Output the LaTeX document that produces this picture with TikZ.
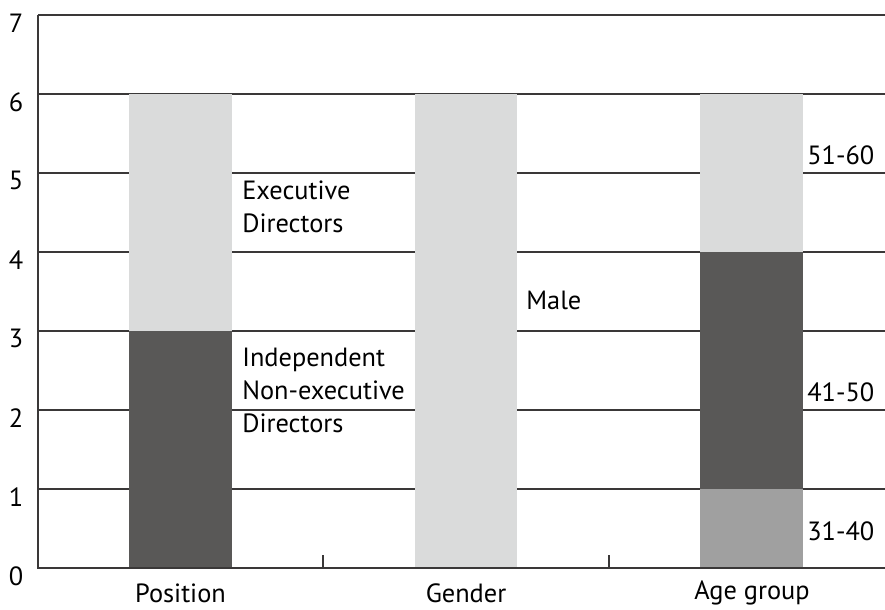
\documentclass[tikz,border=0pt]{standalone}
\usepackage{fontspec}
\setmainfont{PT Sans}
\definecolor{barlight}{HTML}{DADBDB}
\definecolor{bardark}{HTML}{595857}
\definecolor{barmid}{HTML}{A0A0A0}
\definecolor{axisgray}{HTML}{3A3838}
\tikzset{
  gridline/.style={draw=axisgray, line width=0.6pt},
  axisline/.style={draw=axisgray, line width=1pt},
  lbl/.style={font=\fontsize{15}{18.7}\selectfont, text=black, inner sep=0pt, align=left},
  catlbl/.style={lbl, align=center},
  ticklbl/.style={lbl, anchor=center}
}
\begin{document}
\begin{tikzpicture}[x=1cm, y=1.58cm]
  \useasboundingbox (-0.76,-0.519) rectangle (16.94,7.19);

  % Lineas horizontales
  \foreach \v in {1,...,7}
    \draw[gridline] (0,\v) -- (16.94,\v);

  % Barras: Position
  \fill[bardark]  (1.82,0) rectangle (3.88,3);
  \fill[barlight] (1.82,3) rectangle (3.88,6);
  % Barras: Gender
  \fill[barlight] (7.54,0) rectangle (9.58,6);
  % Barras: Age group
  \fill[barmid]   (13.24,0) rectangle (15.30,1);
  \fill[bardark]  (13.24,1) rectangle (15.30,4);
  \fill[barlight] (13.24,4) rectangle (15.30,6);

  % Ejes
  \draw[axisline] (0,7) -- (0,0) -- (16.94,0);
  \foreach \t in {0,5.70,11.42}
    \draw[axisline, line width=0.6pt] (\t,0) -- (\t,0.16);

  % Etiquetas del eje y
  \foreach \v in {0,...,7}
    \node[ticklbl] (y\v) at (-0.44,\v-0.1) {\v};

  % Etiquetas de categorias
  \node[catlbl] (position) at (2.85,-0.32) {Position};
  \node[catlbl] (gender)   at (8.56,-0.32) {Gender};
  \node[catlbl] (agegroup) at (14.28,-0.32) {Age group};

  % Etiquetas de las barras
  \node[lbl, anchor=west] (exec)  at (4.08,4.57) {Executive\\Directors};
  \node[lbl, anchor=west] (indep) at (4.08,2.25) {Independent\\Non-executive\\Directors};
  \node[lbl, anchor=west] (male)  at (9.76,3.39) {Male};
  \node[lbl, anchor=west] (old)   at (15.38,5.23) {51-60};
  \node[lbl, anchor=west] (mid)   at (15.38,2.23) {41-50};
  \node[lbl, anchor=west] (young) at (15.38,0.47) {31-40};
\end{tikzpicture}
\end{document}
